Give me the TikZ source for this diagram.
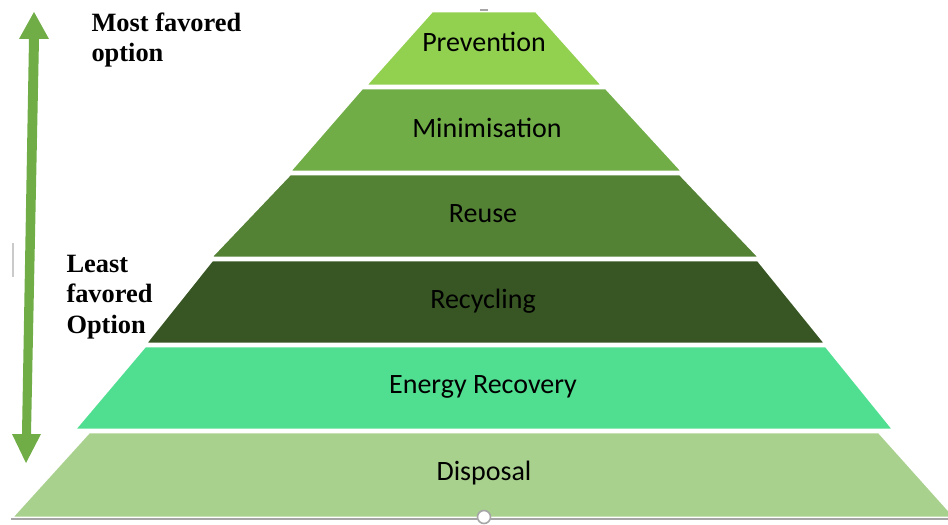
\documentclass[tikz,border=0pt]{standalone}
\usepackage{fontspec}
\setmainfont{Liberation Serif}
\newfontfamily\labelfont{Carlito}

\definecolor{cPrevention}{HTML}{92D050}
\definecolor{cMinimisation}{HTML}{70AD47}
\definecolor{cReuse}{HTML}{548235}
\definecolor{cRecycling}{HTML}{375623}
\definecolor{cEnergy}{HTML}{50DF91}
\definecolor{cDisposal}{HTML}{A9D18E}
\definecolor{cArrow}{HTML}{70AD47}
\definecolor{cHandle}{HTML}{A6A6A6}

\tikzset{every picture/.style={line width=0.75pt}}
\tikzset{
  layer/.style={draw=white, line width=2pt},
  layerlabel/.style={inner sep=0.75pt, font=\labelfont\fontsize{21}{25}\selectfont},
  sidelabel/.style={anchor=west, inner sep=0pt, align=left, font=\bfseries\fontsize{19.8}{22.8}\selectfont}
}

\begin{document}
\begin{tikzpicture}[x=0.75pt,y=0.75pt,yscale=-1,xscale=1]
    \useasboundingbox (0,0) rectangle (948,524);
    \clip (0,0) rectangle (948,524);

    %Shape: Trapezoid [id:prevention]
    \draw [layer, fill=cPrevention] (432,11) -- (536,11) -- (603,86) -- (365,86) -- cycle ;
    %Shape: Trapezoid [id:minimisation]
    \draw [layer, fill=cMinimisation] (362,88) -- (606,88) -- (683,172) -- (289,172) -- cycle ;
    %Shape: Trapezoid [id:reuse]
    \draw [layer, fill=cReuse] (290,174) -- (680,174) -- (760,258) -- (210,258) -- cycle ;
    %Shape: Trapezoid [id:recycling]
    \draw [layer, fill=cRecycling] (212,260) -- (758,260) -- (826,344) -- (145,344) -- cycle ;
    %Shape: Trapezoid [id:energy]
    \draw [layer, fill=cEnergy] (145,346) -- (826,346) -- (894,430) -- (74,430) -- cycle ;
    %Shape: Trapezoid [id:disposal]
    \draw [layer, fill=cDisposal] (89,432) -- (879,432) -- (956,518) -- (11,518) -- cycle ;

    %Straight Lines [id:baseline]
    \draw [cHandle, line width=1.5pt] (11,519) -- (948,519) ;
    %Shape: Circle [id:handle]
    \draw [cHandle, fill=white, line width=1.2pt] (484,517) circle (6.5) ;
    %Shape: Rectangle [id:tophandle]
    \fill [cHandle] (480,9) rectangle (488,11) ;
    %Straight Lines [id:sidemark]
    \draw [cHandle!60, line width=1pt] (13,243) -- (13,277) ;

    %Up Down Arrow [id:favour]
    \fill [cArrow] (34,12) -- (49,39) -- (39,39) -- (31,434) -- (41,434) -- (26,463) -- (12,434) -- (22,434) -- (29,39) -- (19,39) -- cycle ;

    % Text Node
    \node [layerlabel] (prevention) at (484,42) {Prevention};
    % Text Node
    \node [layerlabel] (minimisation) at (487,128) {Minimisation};
    % Text Node
    \node [layerlabel] (reuse) at (483,214) {Reuse};
    % Text Node
    \node [layerlabel] (recycling) at (483,301) {Recycling};
    % Text Node
    \node [layerlabel] (energy) at (483,387) {Energy Recovery};
    % Text Node
    \node [layerlabel] (disposal) at (484,473) {Disposal};
    % Text Node
    \node [sidelabel] (most) at (91,40) {Most favored\\option};
    % Text Node
    \node [sidelabel] (least) at (66,297) {Least\\favored\\Option};

\end{tikzpicture}
\end{document}
